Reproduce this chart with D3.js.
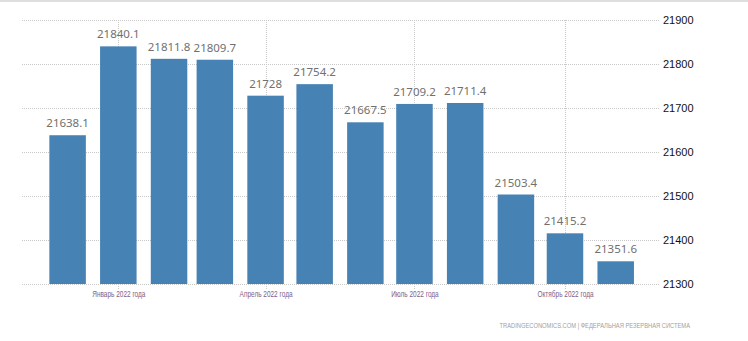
<!DOCTYPE html>
<html>
<head>
<meta charset="utf-8">
<script src="https://cdn.jsdelivr.net/npm/d3@7"></script>
<style>
  html, body { margin: 0; padding: 0; background: #fff; }
  svg { display: block; }
</style>
</head>
<body>
<svg id="chart" width="748" height="341"></svg>
<script>
// Monthly observations, Dec 2021 – Nov 2022
const months = ["2021-12", "2022-01", "2022-02", "2022-03", "2022-04", "2022-05",
                "2022-06", "2022-07", "2022-08", "2022-09", "2022-10", "2022-11"];
const values = [21638.1, 21840.1, 21811.8, 21809.7, 21728, 21754.2,
                21667.5, 21709.2, 21711.4, 21503.4, 21415.2, 21351.6];
const valueLabels = ["21638.1", "21840.1", "21811.8", "21809.7", "21728", "21754.2",
                     "21667.5", "21709.2", "21711.4", "21503.4", "21415.2", "21351.6"];
const yTicks = [21300, 21400, 21500, 21600, 21700, 21800, 21900];
const xTickMonths = ["2022-01", "2022-04", "2022-07", "2022-10"];
const xTickLabels = ["Январь 2022 года", "Апрель 2022 года", "Июль 2022 года", "Октябрь 2022 года"];
const sourceText = "TRADINGECONOMICS.COM | ФЕДЕРАЛЬНАЯ РЕЗЕРВНАЯ СИСТЕМА";

const parse = d3.timeParse("%Y-%m");
const dates = months.map(parse);

const svg = d3.select("#chart");
const W = 748;
const plotLeft = 22, plotRight = 660, plotTop = 20, plotBottom = 284;
const barWidth = 36.5;
const condensed = "scale(0.72,1)"; // narrow lettering for axis and source text

const x = d3.scaleTime()
  .domain([parse("2021-12"), parse("2022-11")])
  .range([67.6, 615.7]);
const y = d3.scaleLinear()
  .domain([21300, 21900])
  .range([plotBottom, plotTop]);

// top border
svg.append("line")
  .attr("x1", 0).attr("x2", W).attr("y1", 1).attr("y2", 1)
  .attr("stroke", "#dedede").attr("stroke-width", 2);

// horizontal grid lines
svg.append("g").selectAll("line").data(yTicks).join("line")
  .attr("x1", plotLeft).attr("x2", plotRight)
  .attr("y1", d => Math.round(y(d)) + 0.5).attr("y2", d => Math.round(y(d)) + 0.5)
  .attr("stroke", "#c8c8c8").attr("stroke-dasharray", "1,1");

// vertical grid lines at quarter starts
const xTickDates = xTickMonths.map(parse);
svg.append("g").selectAll("line").data(xTickDates).join("line")
  .attr("x1", d => Math.round(x(d)) + 0.5).attr("x2", d => Math.round(x(d)) + 0.5)
  .attr("y1", plotTop).attr("y2", plotBottom + 5)
  .attr("stroke", "#c8c8c8").attr("stroke-dasharray", "1,1");

// bars
svg.append("g").selectAll("rect").data(values).join("rect")
  .attr("x", (d, i) => x(dates[i]) - barWidth / 2)
  .attr("width", barWidth)
  .attr("y", d => y(d))
  .attr("height", d => plotBottom - y(d))
  .attr("fill", "#4682b4");

// value labels above bars
svg.append("g").selectAll("text").data(values).join("text")
  .attr("x", (d, i) => x(dates[i]))
  .attr("y", d => y(d) - 8)
  .attr("text-anchor", "middle")
  .attr("font-family", "'Noto Sans', sans-serif")
  .attr("font-size", "11.5px")
  .attr("fill", "#707070")
  .text((d, i) => valueLabels[i]);

// y axis on the right
const yAxis = d3.axisRight(y).tickValues(yTicks).tickSize(0).tickPadding(0).tickFormat(d3.format("d"));
svg.append("g")
  .attr("transform", `translate(663,0)`)
  .call(yAxis)
  .call(g => g.select(".domain").remove())
  .call(g => g.selectAll("text")
    .attr("font-family", "'Liberation Sans', Arial, sans-serif")
    .attr("font-size", "11px")
    .attr("fill", "#111"));

// x axis labels
const xAxis = d3.axisBottom(x).tickValues(xTickDates).tickSize(0).tickPadding(0)
  .tickFormat((d, i) => xTickLabels[i]);
svg.append("g")
  .attr("transform", `translate(0,291)`)
  .call(xAxis)
  .call(g => g.select(".domain").remove())
  .call(g => g.selectAll("text")
    .attr("dy", "0.71em")
    .attr("transform", condensed)
    .attr("font-family", "'Liberation Sans', Arial, sans-serif")
    .attr("font-size", "9px")
    .attr("fill", "#7d6189"));

// source note
svg.append("g")
  .attr("transform", "translate(690,328)")
  .append("text")
  .attr("transform", condensed)
  .attr("text-anchor", "end")
  .attr("font-family", "'Liberation Sans', Arial, sans-serif")
  .attr("font-size", "8px")
  .attr("fill", "#a0a0a0")
  .text(sourceText);
</script>
</body>
</html>
